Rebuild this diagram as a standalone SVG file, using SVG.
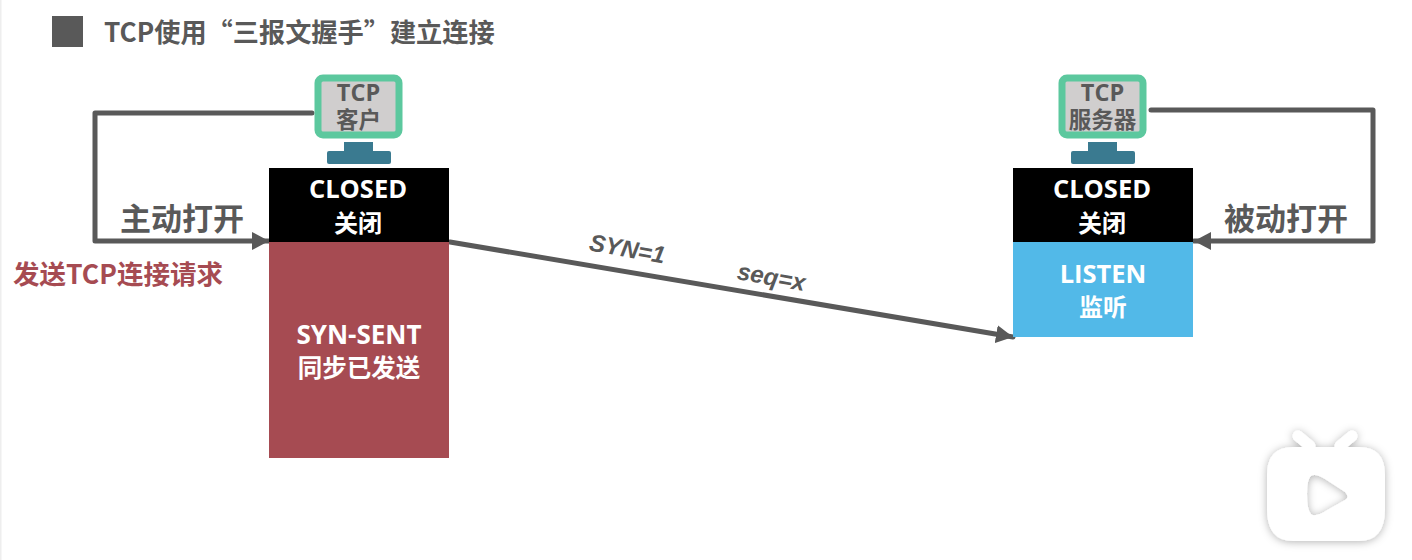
<svg xmlns="http://www.w3.org/2000/svg" width="1412" height="560" viewBox="0 0 1412 560">
<defs>
<style>
text{font-family:"Open Sans","Noto Sans CJK SC",sans-serif;font-weight:700;text-anchor:middle}
.w{fill:#fff;font-size:25.500px}
.wc{fill:#fff;font-size:24px;font-family:"Noto Sans CJK SC",sans-serif;font-weight:700}
.g{fill:#595959}
.tcp{font-size:23.500px}
.mc{font-size:22.500px;font-family:"Noto Sans CJK SC",sans-serif}
.act{font-size:31px;font-family:"Noto Sans CJK SC",sans-serif}
.it{font-size:24px;font-style:italic;font-family:"Liberation Sans",sans-serif}
.mon{fill:#d0cece;stroke:#5cc89e;stroke-width:7px}
.base{fill:#3a7a90}
.conn{fill:none;stroke:#595959;stroke-width:5px;stroke-linejoin:round;stroke-linecap:round}
</style>
<marker id="arr" markerUnits="userSpaceOnUse" markerWidth="17" markerHeight="18" refX="17" refY="9" orient="auto"><path d="M0 0L17 9L0 18Z" fill="#595959"/></marker>
<filter id="sh" x="-20%" y="-20%" width="140%" height="140%"><feDropShadow dx="0" dy="1" stdDeviation="4" flood-color="#000" flood-opacity="0.3"/></filter>
</defs>
<rect width="1412" height="560" fill="#fff"/>
<rect x="0" y="0" width="1.500" height="560" fill="#eee"/>
<g id="title">
<rect x="52" y="16" width="31" height="31" fill="#595959"/>
<text class="g" x="104" y="42" style="font-size:26.200px;text-anchor:start;font-family:'Noto Sans CJK SC',sans-serif">TCP使用“三报文握手”建立连接</text>
</g>
<g id="connectors">
<path class="conn" d="M312 113H95V241H269" marker-end="url(#arr)"/>
<path class="conn" d="M1151 110H1373V241H1194" marker-end="url(#arr)"/>
<path class="conn" d="M450 242L1013 337" marker-end="url(#arr)"/>
</g>
<g id="client">
<rect class="base" x="344" y="142" width="29" height="12"/>
<rect class="base" x="327" y="151" width="64" height="13" rx="2"/>
<rect class="mon" x="318" y="78" width="81" height="57" rx="5"/>
<text class="g tcp" x="358.500" y="101">TCP</text>
<text class="g mc" x="358.500" y="128">客户</text>
</g>
<g id="server">
<rect class="base" x="1088" y="142" width="29" height="12"/>
<rect class="base" x="1071" y="151" width="64" height="13" rx="2"/>
<rect class="mon" x="1062" y="78" width="81" height="57" rx="5"/>
<text class="g tcp" x="1102.500" y="101">TCP</text>
<text class="g mc" x="1102.500" y="128">服务器</text>
</g>
<g id="client-closed">
<rect x="269" y="168" width="180" height="74" fill="#000"/>
<text class="w" x="358" y="198">CLOSED</text>
<text class="wc" x="358" y="232">关闭</text>
</g>
<g id="client-syn-sent">
<rect x="269" y="242" width="180" height="216" fill="#a64b52"/>
<text class="w" x="359" y="344" style="font-size:26px">SYN-SENT</text>
<text class="wc" x="359" y="377" style="font-size:24.500px">同步已发送</text>
</g>
<g id="server-closed">
<rect x="1013" y="168" width="180" height="74" fill="#000"/>
<text class="w" x="1102" y="198">CLOSED</text>
<text class="wc" x="1102" y="232">关闭</text>
</g>
<g id="server-listen">
<rect x="1013" y="242" width="180" height="95" fill="#52b9e8"/>
<text class="w" x="1103" y="283">LISTEN</text>
<text class="wc" x="1103" y="316">监听</text>
</g>
<g id="labels">
<text class="g act" x="182" y="230">主动打开</text>
<text class="g act" x="1286" y="230">被动打开</text>
<text x="118" y="284" fill="#a64b52" style="font-size:26.500px;font-family:'Noto Sans CJK SC',sans-serif">发送TCP连接请求</text>
<text class="g it" transform="translate(626 257) rotate(10)">SYN=1</text>
<text class="g it" transform="translate(770 285) rotate(10)">seq=x</text>
</g>
<g id="watermark" filter="url(#sh)">
<path d="M1310 446L1298 436M1340 446L1352 436" stroke="#fff" stroke-width="11" stroke-linecap="round"/>
<path fill="#fff" fill-rule="evenodd" d="M1293 447H1359Q1385 447 1385 475V509Q1385 541 1359 541H1293Q1267 541 1267 509V475Q1267 447 1293 447ZM1311 476Q1307 479 1307 494Q1307 510 1311 514Q1315 518 1329 509L1345 500Q1350 497 1345 492L1325 479Q1315 473 1311 476Z"/>
</g>
</svg>
